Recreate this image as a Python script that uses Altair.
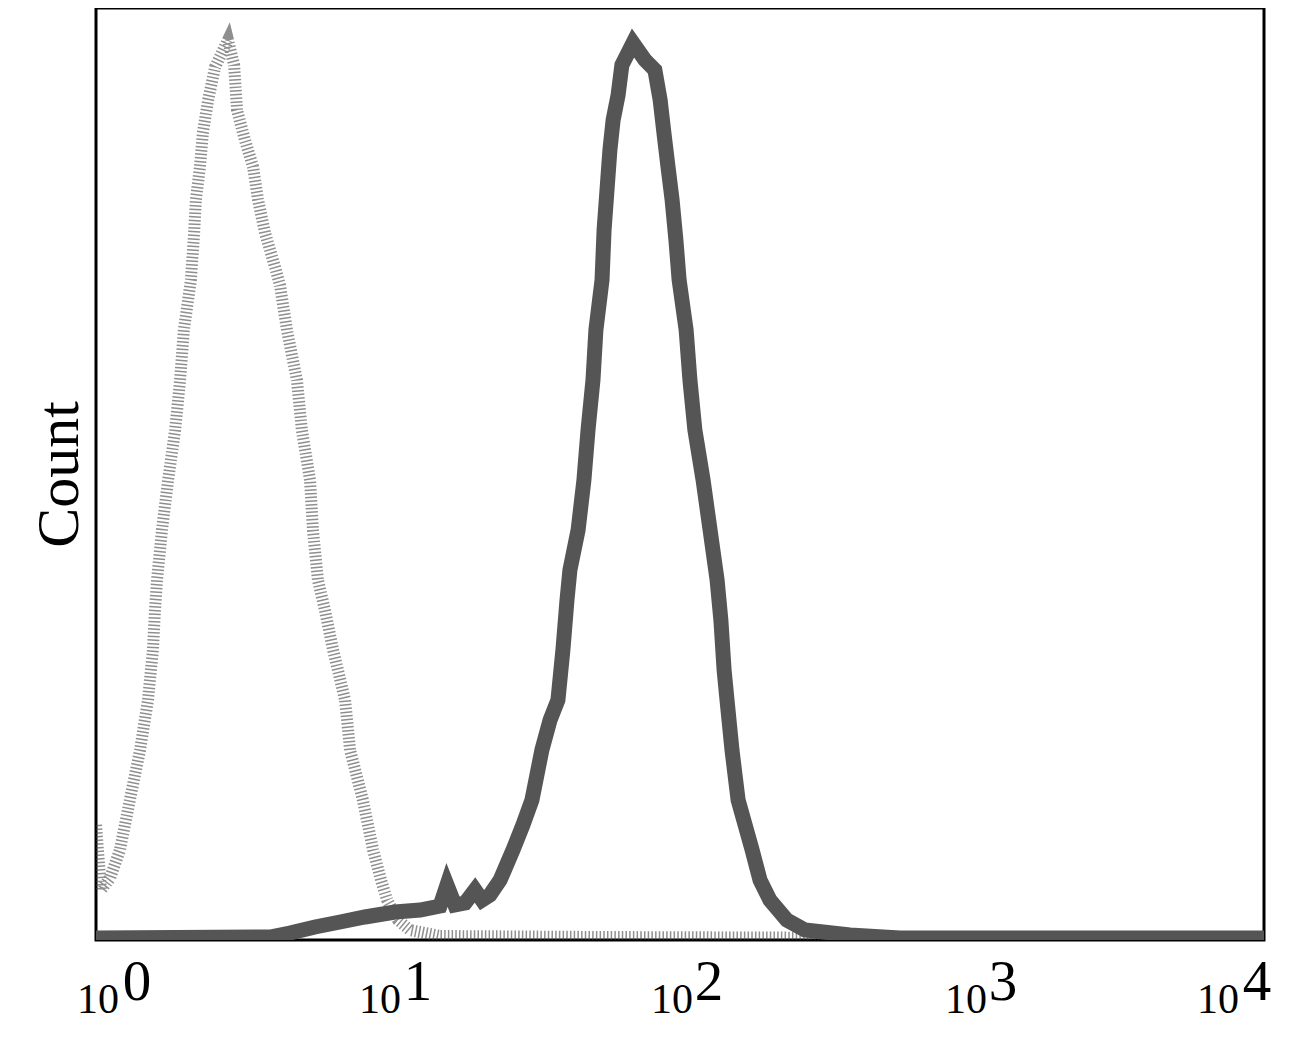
import altair as alt
import pandas as pd
import numpy as np

# Control histogram (dotted, light) : decade position (log10 of intensity) and count
ctrl_log = [0.000, 0.017, 0.048, 0.082, 0.116, 0.151, 0.178, 0.195, 0.202, 0.209, 0.226, 0.247,
            0.271, 0.288, 0.301, 0.325, 0.336, 0.342, 0.356, 0.366, 0.384, 0.408, 0.452, 0.473,
            0.483, 0.510, 0.538, 0.555, 0.579, 0.613, 0.630, 0.654, 0.688, 0.705, 0.733, 0.743,
            0.760, 0.784, 0.812, 0.853, 0.870, 0.914, 0.949, 0.976, 0.997, 1.034, 1.075, 1.178,
            1.726, 2.753, 4.000]
ctrl_count = [115, 50, 62, 90, 140, 190, 240, 290, 330, 360, 410, 460,
              510, 560, 610, 660, 707, 740, 773, 807, 840, 873, 900, 875,
              830, 800, 773, 740, 707, 673, 655, 610, 560, 510, 460, 410,
              360, 330, 290, 240, 190, 140, 90, 60, 40, 20, 10, 4,
              3, 2, 2]

# Stained sample histogram (dark, thick)
samp_log = [0.000, 0.596, 0.664, 0.750, 0.836, 0.921, 1.024, 1.110, 1.178, 1.202, 1.229, 1.264,
            1.298, 1.322, 1.349, 1.384, 1.428, 1.462, 1.493, 1.527, 1.555, 1.582, 1.599, 1.613,
            1.623, 1.651, 1.671, 1.685, 1.702, 1.712, 1.733, 1.740, 1.750, 1.760, 1.771, 1.788,
            1.801, 1.839, 1.880, 1.914, 1.932, 1.945, 1.959, 1.973, 1.986, 1.997, 2.021, 2.034,
            2.051, 2.079, 2.103, 2.127, 2.140, 2.151, 2.161, 2.178, 2.199, 2.247, 2.274, 2.308,
            2.366, 2.428, 2.582, 2.753, 4.000]
samp_count = [2, 3, 7, 13, 18, 23, 28, 30, 34, 55, 35, 37,
              50, 40, 45, 60, 90, 115, 140, 190, 220, 240, 290, 340,
              370, 410, 460, 510, 560, 610, 660, 710, 750, 790, 820, 845,
              875, 897, 880, 870, 840, 807, 773, 740, 700, 660, 610, 560,
              510, 460, 410, 360, 320, 270, 240, 190, 140, 90, 60, 40,
              20, 10, 5, 2, 2]

tick_values = [1, 10, 100, 1000, 10000]
tick_base = ["10", "10", "10", "10", "10"]
tick_exp = ["0", "1", "2", "3", "4"]

ctrl = pd.DataFrame({"x": np.power(10.0, ctrl_log), "count": ctrl_count})
samp = pd.DataFrame({"x": np.power(10.0, samp_log), "count": samp_count})

W, H = 1168, 932
xs = alt.Scale(type="log", domain=[1, 10000], range=[0, W], nice=False)
ys = alt.Scale(domain=[0, 932], range=[H, 0], nice=False, zero=False)

yaxis = alt.Axis(title="Count", labels=False, ticks=False, domain=False, grid=False,
                 titleFont="Liberation Serif", titleFontSize=60, titleFontWeight="normal",
                 titleColor="black", titlePadding=19, titleBaseline="alphabetic")

ctrl_line = alt.Chart(ctrl).mark_line(
    color="#444444", strokeWidth=12, opacity=0.6, strokeDash=[1.5, 2.2], clip=True
).encode(
    x=alt.X("x:Q", scale=xs, axis=None),
    y=alt.Y("count:Q", scale=ys, axis=yaxis),
)

samp_line = alt.Chart(samp).mark_line(
    color="#555555", strokeWidth=15, clip=True
).encode(
    x=alt.X("x:Q", scale=xs, axis=None),
    y=alt.Y("count:Q", scale=ys, axis=yaxis),
)

layers = [ctrl_line, samp_line]
base_dx = [2, -8, -8, -6, -46]
exp_dx = [41, 30, 29, 31, -7]
for i in range(len(tick_values)):
    d = pd.DataFrame({"x": [tick_values[i]], "b": [tick_base[i]], "e": [tick_exp[i]]})
    layers.append(
        alt.Chart(d).mark_text(font="Liberation Serif", fontSize=42, color="black",
                               align="center", baseline="alphabetic", dx=base_dx[i])
        .encode(x=alt.X("x:Q", scale=xs, axis=None), y=alt.value(1005), text="b:N")
    )
    layers.append(
        alt.Chart(d).mark_text(font="Liberation Serif", fontSize=57, color="black",
                               align="center", baseline="alphabetic", dx=exp_dx[i])
        .encode(x=alt.X("x:Q", scale=xs, axis=None), y=alt.value(992), text="e:N")
    )

chart = alt.layer(*layers).properties(
    width=W, height=H,
    autosize=alt.AutoSizeParams(type="none"),
    padding={"left": 88, "top": 0, "right": 30, "bottom": 100},
    background="white",
).configure_view(stroke="black", strokeWidth=3)

chart.save("out.html", embed_options={"renderer": "svg", "actions": False})
